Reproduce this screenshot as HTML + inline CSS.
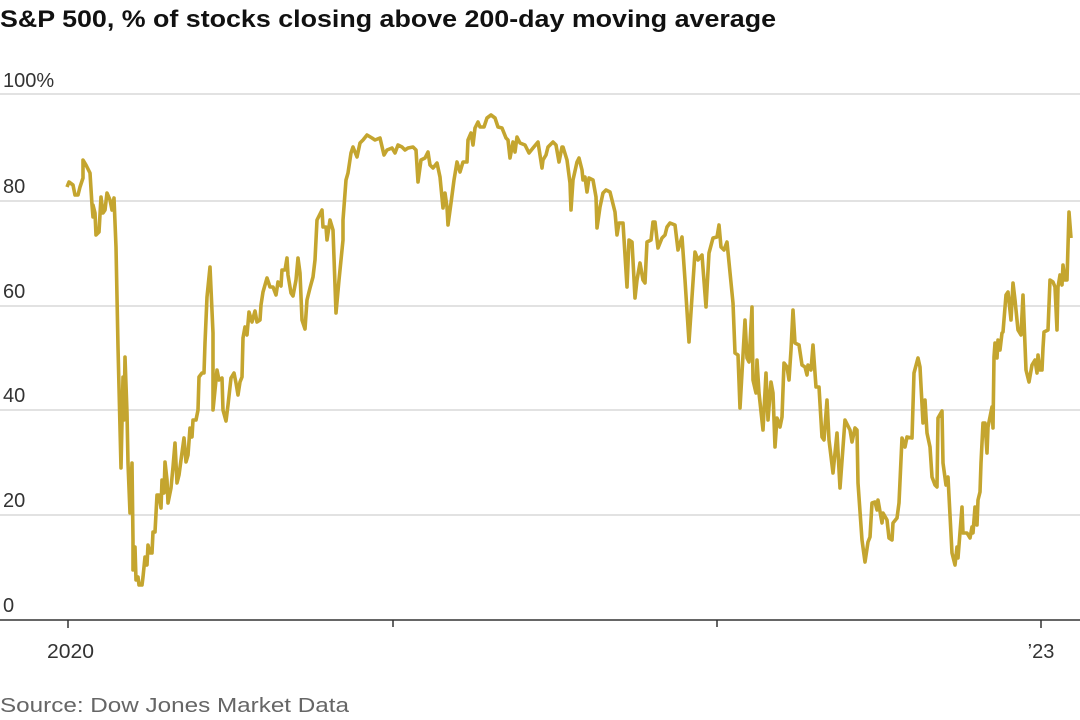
<!DOCTYPE html>
<html><head><meta charset="utf-8"><style>
html,body{margin:0;padding:0;background:#fff;}
svg{display:block;}
</style></head><body>
<svg width="1080" height="720" viewBox="0 0 1080 720" xmlns="http://www.w3.org/2000/svg">
<text x="0" y="27" font-family="Liberation Sans, sans-serif" font-weight="bold" font-size="24" fill="#111" textLength="776" lengthAdjust="spacingAndGlyphs">S&amp;P 500, % of stocks closing above 200-day moving average</text>
<g stroke="#e2e2e2" stroke-width="2">
<line x1="0" y1="94" x2="1080" y2="94"/>
<line x1="0" y1="201" x2="1080" y2="201"/>
<line x1="0" y1="306" x2="1080" y2="306"/>
<line x1="0" y1="410" x2="1080" y2="410"/>
<line x1="0" y1="515" x2="1080" y2="515"/>
</g>
<g font-family="Liberation Sans, sans-serif" font-size="20" fill="#333">
<text x="3" y="87">100%</text>
<text x="3" y="193">80</text>
<text x="3" y="298">60</text>
<text x="3" y="402">40</text>
<text x="3" y="507">20</text>
<text x="3" y="612">0</text>
<text x="47" y="658" textLength="47" lengthAdjust="spacingAndGlyphs">2020</text>
<text x="1041" y="658" text-anchor="middle">’23</text>
<text x="0" y="712" fill="#666" textLength="349" lengthAdjust="spacingAndGlyphs">Source: Dow Jones Market Data</text>
</g>
<line x1="0" y1="620" x2="1080" y2="620" stroke="#333" stroke-width="1.5"/>
<g stroke="#333" stroke-width="1.5">
<line x1="68" y1="620" x2="68" y2="628"/>
<line x1="393" y1="620" x2="393" y2="627"/>
<line x1="717" y1="620" x2="717" y2="627"/>
<line x1="1041" y1="620" x2="1041" y2="628"/>
</g>
<polyline fill="none" stroke="#c4a52f" stroke-width="3.6" stroke-linejoin="round" points="
67,187 69,182 73,185 75,195 78,195 80,187 83,178 83,160 86,165 90,173 92,205 93,217 93,205 95,213 96,235 99,232 101,197 103,213 105,210 107,193 110,200 112,210 114,198 116,247 118,347 121,468 123,377 124,420 125,357 127,413 128,463 130,513 132,463 133,540 133,570 135,547 136,580 138,577 139,585 142,585 143,577 145,557 147,565 148,545 150,553 152,553 153,532 155,532 157,495 159,495 161,508 162,480 164,493 165,462 167,480 168,503 171,488 173,467 175,443 177,483 179,475 181,460 184,438 186,462 188,455 190,428 192,437 193,420 196,420 198,410 199,377 202,373 204,373 205,343 207,297 210,267 213,333 213,410 215,390 217,370 219,380 222,378 223,410 226,421 228,405 231,378 234,373 236,383 238,395 240,382 242,377 243,338 245,327 247,335 249,312 252,322 255,311 257,322 260,320 261,305 263,292 267,278 270,287 273,287 276,295 278,282 281,286 282,270 285,270 287,258 288,275 291,293 293,296 296,280 298,258 300,273 302,320 305,329 307,300 310,288 313,277 315,260 317,220 322,210 323,227 326,227 327,240 330,220 333,230
336,313 339,280 343,240 343,220 346,180 348,173 351,153 353,147 357,157 360,143 363,140 367,135 372,138 375,140 380,138 384,155 387,150 392,148 395,153 398,145 402,147 405,150 408,148 413,147 416,150 418,182 421,160 425,158 428,152 430,165 433,168 437,163 440,177 443,208 445,193 447,207 448,225 451,203 454,180 457,162 460,172 463,162 467,162 468,140 471,133 473,145 475,128 478,122 480,127 484,127 487,118 491,115 495,118 498,127 502,128 506,138 508,140 510,158 513,142 515,152 517,137 520,143 525,145 529,153 533,148 538,142 542,168 543,160 546,155 548,147 553,142 556,145 559,162 562,147 563,147 567,160 570,183 571,210 573,180 577,162 579,158 582,170 583,180 585,177 587,192 589,178 593,180 596,197 597,228
600,207 603,193 606,190 610,192 615,212 617,235 619,223 623,223 627,287 629,240 632,242 635,298 637,280 640,263 643,280 645,283 647,242 651,240 653,222 655,222 658,248 662,238 665,235 667,227 670,223 675,225 678,250 682,237 685,280 689,342 695,252 698,260 702,255 706,307 709,253 713,238 717,237 719,225 721,247 724,250 727,242 733,303 735,353 738,355 740,408 745,320 747,358 749,362 752,307 753,380 756,393 757,360 759,393 763,430 766,373 768,420 771,382 773,393 775,447 777,418 780,427 782,417 784,363 787,367 789,380 791,350 793,310 795,343 799,345 802,365 805,367 807,375 808,365 811,370 813,345 816,387 819,387 822,437 824,440 827,400 829,440 833,473 835,453 837,433 840,488
845,420 850,430 852,442 855,428 857,430 858,483 862,540 865,562 868,542 870,537 872,503 875,502 877,510 878,500 882,523 883,513 887,520 889,538 892,540 893,523 897,518 899,503 902,438 905,447 907,437 912,438 914,373 918,358 920,367 923,423 925,400 927,433 930,447 932,477 935,485 937,487 938,418 942,411 943,463 946,485 948,477 952,553 955,565 957,547 958,558 962,507 963,533 967,533 970,538 972,527 973,533 975,507 977,525 978,500 980,492 981,463 983,423 985,423 987,453 988,427 992,407 993,428 994,357 995,343 997,358 998,340 1000,350 1002,333 1003,332 1006,295 1008,292 1011,320 1013,283 1015,300 1018,330 1021,335 1023,295 1026,370 1029,382 1032,365 1035,360 1037,373 1038,355 1040,370 1042,370 1043,348 1044,332 1048,330 1050,280 1053,282 1055,287 1057,330 1058,287 1060,275 1062,285 1063,265 1065,280 1067,280 1069,212 1071,238"/>
</svg>
</body></html>
